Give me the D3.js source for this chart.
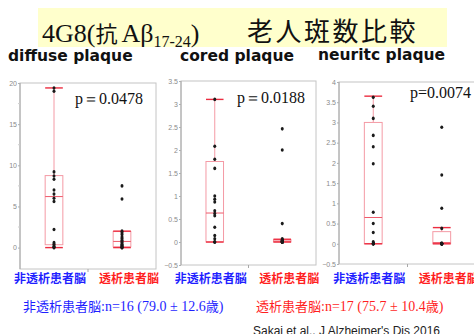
<!DOCTYPE html>
<html>
<head>
<meta charset="utf-8">
<script src="https://cdn.jsdelivr.net/npm/d3@7"></script>
<style>
  body { margin: 0; background: #fff; }
  svg { display: block; }
</style>
</head>
<body>
<div id="chart"></div>
<script>
var width = 474;
var height = 334;

// panel titles, p values, groups
var panelTitles = ['diffuse plaque', 'cored plaque', 'neuritc plaque'];
var pValues = ['p＝0.0478', 'p＝0.0188', 'p=0.0074'];
var groups = ['非透析患者脳', '透析患者脳'];

// individual values (non dialysis / dialysis)
var diffuseNon = [19.4, 19.0, 9.2, 8.7, 8.3, 7.0, 6.5, 6.0, 5.6, 2.2, 0.6, 0.4, 0.2, 0.1, 0.0, 0.0];
var diffuseDia = [7.5, 5.9, 2.0, 1.8, 1.6, 1.3, 1.1, 0.9, 0.7, 0.6, 0.4, 0.3, 0.2, 0.1, 0.0, 0.0, 0.0];
var coredNon = [3.1, 2.08, 1.8, 1.6, 1.0, 0.93, 0.87, 0.68, 0.62, 0.57, 0.32, 0.14, 0.07, 0.0, 0.0, 0.0];
var coredDia = [2.46, 2.0, 0.4, 0.07, 0.05, 0.04, 0.03, 0.02, 0.01, 0, 0, 0, 0, 0, 0, 0, 0];
var neuriticNon = [3.62, 3.4, 3.1, 2.68, 2.4, 1.98, 0.78, 0.5, 0.28, 0.05, 0.02, 0, 0, 0, 0, 0];
var neuriticDia = [2.88, 1.7, 0.88, 0.38, 0.02, 0, 0, 0, 0, 0, 0, 0, 0, 0, 0, 0, 0];

// box stats: [lower whisker, q1, median, q3, upper whisker]
var diffuseNonBox = [0, 0.35, 6.2, 8.75, 19.4];
var diffuseDiaBox = [0, 0.1, 0.75, 1.95, 2.0];
var coredNonBox = [0, 0, 0.63, 1.75, 3.1];
var coredDiaBox = [0, 0, 0.02, 0.05, 0.06];
var neuriticNonBox = [0, 0, 0.65, 3.0, 3.65];
var neuriticDiaBox = [0, 0, 0.03, 0.3, 0.4];

// axes
var diffuseTicks = [0, 5, 10, 15, 20];
var diffuseMinor = [2.5, 7.5, 12.5, 17.5];
var coredTicks = [-0.5, 0, 0.5, 1, 1.5, 2, 2.5, 3, 3.5];
var neuriticTicks = [-0.5, 0, 0.5, 1, 1.5, 2, 2.5, 3, 3.5, 4];

var panels = [
  { title: panelTitles[0], p: pValues[0], values: [diffuseNon, diffuseDia], boxes: [diffuseNonBox, diffuseDiaBox],
    domain: [-2.6, 20], ticks: diffuseTicks, minor: diffuseMinor,
    frame: { x: 20, y: 83, w: 136, h: 186 }, titlePos: [8, 61], pPos: [75, 104] },
  { title: panelTitles[1], p: pValues[1], values: [coredNon, coredDia], boxes: [coredNonBox, coredDiaBox],
    domain: [-0.5, 3.5], ticks: coredTicks, minor: [],
    frame: { x: 181, y: 81, w: 135, h: 184 }, titlePos: [180, 61], pPos: [237, 103] },
  { title: panelTitles[2], p: pValues[2], values: [neuriticNon, neuriticDia], boxes: [neuriticNonBox, neuriticDiaBox],
    domain: [-0.5, 4], ticks: neuriticTicks, minor: [],
    frame: { x: 339, y: 82, w: 137, h: 182 }, titlePos: [318, 59.5], pPos: [410, 98] }
];

var groupColor = ['#1f1fff', '#ff1f1f'];
var serif = '"Liberation Serif", "Times New Roman", serif';
var cjk = '"Noto Sans CJK JP", sans-serif';

var svg = d3.select('#chart').append('svg')
  .attr('width', width)
  .attr('height', height);

// title banner
svg.append('rect')
  .attr('x', 38).attr('y', 8)
  .attr('width', 409).attr('height', 39)
  .attr('fill', '#ffffcc');

var t1 = svg.append('text')
  .attr('x', 42).attr('y', 42)
  .attr('font-family', serif)
  .attr('font-size', 26)
  .attr('fill', '#111');
t1.append('tspan').text('4G8(');
t1.append('tspan').attr('font-family', cjk).attr('font-size', 22).text('抗');
t1.append('tspan').attr('dx', 4).text('Aβ');
t1.append('tspan').attr('font-size', 16).attr('dy', 5).text('17-24');
t1.append('tspan').attr('dy', -5).text(')');

svg.append('text')
  .attr('x', 247).attr('y', 41)
  .attr('font-family', cjk)
  .attr('font-size', 26)
  .attr('letter-spacing', 2.5)
  .attr('fill', '#111')
  .text('老人斑数比較');

panels.forEach(function (pn) {
  var f = pn.frame;
  var g = svg.append('g').attr('transform', 'translate(' + f.x + ',' + f.y + ')');

  var y = d3.scaleLinear().domain(pn.domain).range([f.h, 0]);
  var x = d3.scalePoint().domain(groups).range([0, f.w]).padding(0.5);
  var boxW = f.w * 0.13;

  // frame
  g.append('rect')
    .attr('width', f.w).attr('height', f.h)
    .attr('fill', 'none')
    .attr('stroke', '#c4c4c4');
  g.append('line')
    .attr('x1', 0).attr('x2', 0).attr('y1', 0).attr('y2', f.h)
    .attr('stroke', '#a8a8a8');
  g.append('line')
    .attr('x1', f.w / 2).attr('x2', f.w / 2).attr('y1', f.h).attr('y2', f.h + 3)
    .attr('stroke', '#a8a8a8');

  // y axis
  var axis = d3.axisLeft(y)
    .tickValues(pn.ticks)
    .tickSize(2)
    .tickPadding(1)
    .tickFormat(d3.format('~g'));
  var ax = g.append('g').call(axis);
  ax.select('.domain').remove();
  ax.selectAll('line').attr('stroke', '#b0b0b0');
  ax.selectAll('text')
    .attr('font-family', '"Liberation Sans Narrow", "Liberation Sans", sans-serif')
    .attr('font-size', 7)
    .attr('fill', '#8a8a8a');
  g.selectAll('.minor')
    .data(pn.minor)
    .enter().append('line')
    .attr('x1', -2).attr('x2', 0)
    .attr('y1', function (d) { return y(d); })
    .attr('y2', function (d) { return y(d); })
    .attr('stroke', '#cfcfcf');

  // boxes
  pn.boxes.forEach(function (b, i) {
    var cx = x(groups[i]);
    var bg = g.append('g');
    bg.append('line')
      .attr('x1', cx).attr('x2', cx)
      .attr('y1', y(b[4])).attr('y2', y(b[0]))
      .attr('stroke', '#f49aa5');
    bg.append('rect')
      .attr('x', cx - boxW / 2).attr('width', boxW)
      .attr('y', y(b[3])).attr('height', Math.max(0.5, y(b[1]) - y(b[3])))
      .attr('fill', '#fff')
      .attr('stroke', '#f49aa5');
    bg.append('line')
      .attr('x1', cx - boxW / 2).attr('x2', cx + boxW / 2)
      .attr('y1', y(b[2])).attr('y2', y(b[2]))
      .attr('stroke', '#ee5a6a');
    [b[0], b[4]].forEach(function (v) {
      bg.append('line')
        .attr('x1', cx - boxW / 2).attr('x2', cx + boxW / 2)
        .attr('y1', y(v)).attr('y2', y(v))
        .attr('stroke', '#ec2d40')
        .attr('stroke-width', 1.4);
    });
  });

  // points
  pn.values.forEach(function (vals, i) {
    g.selectAll('.pt' + i)
      .data(vals)
      .enter().append('ellipse')
      .attr('cx', x(groups[i]))
      .attr('cy', function (d) { return y(d); })
      .attr('rx', 1.5).attr('ry', 1.8)
      .attr('fill', '#1a1a1a');
  });

  // panel title
  svg.append('text')
    .attr('x', pn.titlePos[0]).attr('y', pn.titlePos[1])
    .attr('font-family', '"DejaVu Sans", sans-serif')
    .attr('font-weight', 'bold')
    .attr('font-size', 15.5)
    .attr('fill', '#111')
    .text(pn.title);

  // p value
  svg.append('text')
    .attr('x', pn.pPos[0]).attr('y', pn.pPos[1])
    .attr('font-family', serif)
    .attr('font-size', 16)
    .attr('fill', '#111')
    .text(pn.p);

  // group labels
  groups.forEach(function (gr, i) {
    svg.append('text')
      .attr('x', f.x + x(gr) + (i === 0 ? -4 : 7))
      .attr('y', 283)
      .attr('text-anchor', 'middle')
      .attr('font-family', cjk)
      .attr('font-weight', 'bold')
      .attr('font-size', 12)
      .attr('fill', groupColor[i])
      .text(gr);
  });
});

// sample info
var sampleText = [
  { cjk: '非透析患者脳', rest: ':n=16 (79.0 ± 12.6', x: 23 },
  { cjk: '透析患者脳', rest: ':n=17 (75.7 ± 10.4', x: 256 }
];
sampleText.forEach(function (s, i) {
  var t = svg.append('text')
    .attr('x', s.x).attr('y', 311)
    .attr('font-family', serif)
    .attr('font-size', 14)
    .attr('fill', groupColor[i]);
  t.append('tspan').attr('font-family', cjk).attr('font-size', 13).text(s.cjk);
  t.append('tspan').text(s.rest);
  t.append('tspan').attr('font-family', cjk).attr('font-size', 13).text('歳');
  t.append('tspan').text(')');
});

svg.append('text')
  .attr('x', 253).attr('y', 335)
  .attr('font-family', '"Liberation Sans", Arial, sans-serif')
  .attr('font-size', 12)
  .attr('fill', '#222')
  .text("Sakai et al., J Alzheimer's Dis 2016");
</script>
</body>
</html>
